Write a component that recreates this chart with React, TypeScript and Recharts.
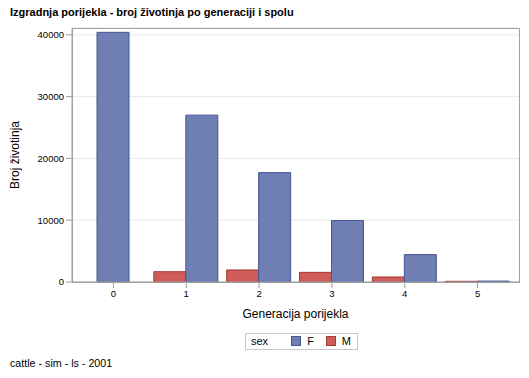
import { Bar, BarChart, CartesianGrid, XAxis, YAxis } from "recharts";

const generations = ["0", "1", "2", "3", "4", "5"];
const femaleCounts = [40400, 27000, 17700, 9950, 4430, 150];
const maleCounts: (number | null)[] = [null, 1670, 1950, 1560, 810, 110];
const yTicks = [0, 10000, 20000, 30000, 40000];

// generation 0 has no males, so its bar sits alone (centered) on a second axis
const data = generations.map((gen, i) => ({
  gen,
  M: maleCounts[i],
  F: maleCounts[i] == null ? null : femaleCounts[i],
  Fsolo: maleCounts[i] == null ? femaleCounts[i] : null,
}));

const FONT = '"Liberation Sans", Arial, sans-serif';
const FRAME = "#A0A0A0";
const BLUE = "#6F7EB3";
const BLUE_EDGE = "#445694";
const RED = "#D05B5B";
const RED_EDGE = "#A23A2E";

function Swatch({ fill, edge }: { fill: string; edge: string }) {
  return (
    <span
      style={{
        display: "inline-block",
        width: 8,
        height: 8,
        background: fill,
        border: `1px solid ${edge}`,
        marginRight: 6,
        verticalAlign: "-1px",
      }}
    />
  );
}

export default function App() {
  return (
    <div
      style={{
        position: "absolute",
        left: 0,
        top: 0,
        width: 529,
        height: 378,
        background: "#fff",
        fontFamily: FONT,
        color: "#000",
      }}
    >
      <div style={{ position: "absolute", left: 10, top: 6, fontSize: 11, fontWeight: "bold" }}>
        Izgradnja porijekla - broj životinja po generaciji i spolu
      </div>

      <BarChart
        width={529}
        height={378}
        data={data}
        margin={{ top: 28, right: 10, bottom: 72, left: 0 }}
        barGap={0}
      >
        <CartesianGrid vertical={false} stroke="#E8E8E8" />
        <XAxis
          dataKey="gen"
          height={24}
          padding={{ left: 5, right: 5 }}
          tickSize={6}
          tickLine={{ stroke: FRAME }}
          axisLine={{ stroke: FRAME }}
          tick={{ fontSize: 9.5, fill: "#000", fontFamily: FONT }}
          label={{
            value: "Generacija porijekla",
            position: "bottom",
            offset: 3,
            style: { fontSize: 12, fill: "#000", fontFamily: FONT },
          }}
        />
        <XAxis
          xAxisId="top"
          orientation="top"
          dataKey="gen"
          height={0}
          padding={{ left: 5, right: 5 }}
          tick={false}
          tickLine={false}
          axisLine={false}
        />
        <YAxis
          width={72}
          domain={[0, 41100]}
          ticks={yTicks}
          tickSize={6}
          tickLine={{ stroke: FRAME }}
          axisLine={{ stroke: FRAME }}
          tick={{ fontSize: 9.5, fill: "#000", fontFamily: FONT }}
          label={{
            value: "Broj životinja",
            angle: -90,
            position: "insideLeft",
            offset: 15,
            style: { fontSize: 12, fill: "#000", fontFamily: FONT, textAnchor: "middle" },
          }}
        />
        <Bar dataKey="M" fill={RED} stroke={RED_EDGE} barSize={32} isAnimationActive={false} />
        <Bar dataKey="F" fill={BLUE} stroke={BLUE_EDGE} barSize={32} isAnimationActive={false} />
        <Bar
          dataKey="Fsolo"
          xAxisId="top"
          fill={BLUE}
          stroke={BLUE_EDGE}
          barSize={32}
          isAnimationActive={false}
        />
      </BarChart>

      {/* plot frame */}
      <div
        style={{
          position: "absolute",
          left: 72,
          top: 28,
          width: 446,
          height: 253,
          border: `1px solid ${FRAME}`,
          pointerEvents: "none",
        }}
      />

      <div
        style={{
          position: "absolute",
          left: 245,
          top: 333,
          width: 111,
          height: 15,
          border: "1px solid #C8C8C8",
          fontSize: 11,
          lineHeight: "15px",
          whiteSpace: "nowrap",
        }}
      >
        <span style={{ marginLeft: 5, marginRight: 23 }}>sex</span>
        <Swatch fill={BLUE} edge={BLUE_EDGE} />
        <span style={{ marginRight: 12 }}>F</span>
        <Swatch fill={RED} edge={RED_EDGE} />
        <span>M</span>
      </div>

      <div style={{ position: "absolute", left: 10, top: 357, fontSize: 10.7 }}>
        cattle - sim - ls - 2001
      </div>
    </div>
  );
}
